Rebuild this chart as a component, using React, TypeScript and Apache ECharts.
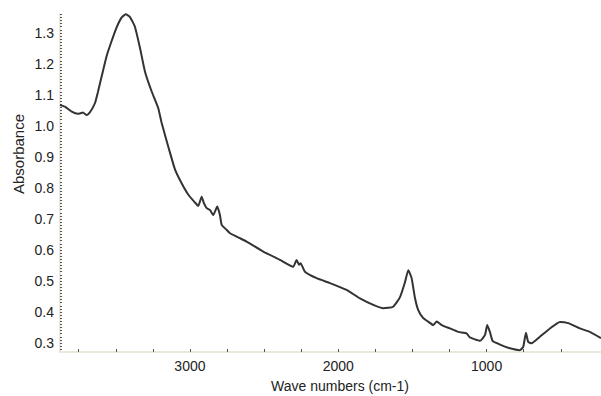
import React, { useEffect, useRef } from "react";
import * as echarts from "echarts";

const wavenumbers = [
  3876, 3843, 3797, 3755, 3721, 3696, 3674, 3640, 3620, 3595, 3562, 3528, 3494, 3460, 3433, 3405,
  3371, 3337, 3303, 3258, 3214, 3191, 3146, 3101, 3056, 3012, 2966, 2944, 2921, 2906, 2887, 2865,
  2843, 2816, 2798, 2786, 2753, 2730, 2663, 2618, 2506, 2393, 2304, 2281, 2265, 2254, 2225, 2146,
  2056, 1944, 1854, 1764, 1697, 1630, 1584, 1551, 1528, 1506, 1483, 1461, 1427, 1394, 1360, 1337,
  1303, 1247, 1191, 1135, 1113, 1045, 1011, 996, 978, 960, 910, 843, 776, 753, 735, 720, 697, 641,
  573, 506, 450, 371, 304, 229,
];
const absorbance = [
  1.068, 1.062, 1.046, 1.039, 1.043, 1.035, 1.044, 1.074, 1.11, 1.16, 1.225, 1.274, 1.318, 1.35, 1.36, 1.352,
  1.32, 1.252, 1.175, 1.111, 1.058, 1.01, 0.933, 0.86, 0.815, 0.779, 0.753, 0.742, 0.772, 0.751, 0.735, 0.729,
  0.713, 0.74, 0.713, 0.681, 0.665, 0.654, 0.638, 0.627, 0.595, 0.568, 0.546, 0.568, 0.552, 0.557, 0.53, 0.509,
  0.493, 0.471, 0.444, 0.423, 0.412, 0.417, 0.448, 0.495, 0.535, 0.51, 0.445, 0.406, 0.38, 0.369, 0.358, 0.369,
  0.358, 0.347, 0.336, 0.331, 0.318, 0.307, 0.326, 0.358, 0.336, 0.307, 0.295, 0.283, 0.277, 0.288, 0.333, 0.304, 0.299, 0.32,
  0.347, 0.368, 0.364, 0.347, 0.336, 0.316,
];
const xLabels = [1000, 2000, 3000];
const xTicks = [500, 750, 1000, 1250, 1500, 1750, 2000, 2250, 2500, 2750, 3000, 3250, 3500, 3750];
const yLabels = [0.3, 0.4, 0.5, 0.6, 0.7, 0.8, 0.9, 1.0, 1.1, 1.2, 1.3];
const yTickHundredths = Array.from({ length: 109 }, (_, i) => 28 + i);

export default function App() {
  const ref = useRef<HTMLDivElement>(null);
  useEffect(() => {
    if (!ref.current) return;
    const chart = echarts.init(ref.current, null, { renderer: "svg" });
    const font = "'Liberation Sans', Arial, sans-serif";
    chart.setOption({
      animation: false,
      backgroundColor: "#ffffff",
      grid: { left: 60, right: 0, top: 14, bottom: 44 },
      xAxis: {
        type: "value",
        inverse: true,
        min: 229,
        max: 3876,
        axisLine: { show: true, lineStyle: { color: "#e6e1d2", width: 1.5 } },
        axisTick: {
          show: true,
          inside: true,
          length: 3,
          customValues: xTicks,
          lineStyle: { color: "#555", width: 1 },
        },
        axisLabel: {
          customValues: xLabels,
          formatter: (v: number) => String(Math.round(v)),
          color: "#222",
          fontSize: 14,
          fontFamily: font,
          margin: 7,
        },
        splitLine: { show: false },
      },
      yAxis: {
        type: "value",
        min: 0.271,
        max: 1.361,
        axisLine: { show: true, lineStyle: { color: "#e6e1d2", width: 1.5 } },
        axisTick: {
          show: true,
          inside: true,
          length: 2,
          customValues: yTickHundredths.map((v) => v / 100),
          lineStyle: { color: "#555", width: 1 },
        },
        axisLabel: {
          customValues: yLabels,
          formatter: (v: number) => v.toFixed(1),
          color: "#222",
          fontSize: 14,
          fontFamily: font,
          margin: 6,
        },
        splitLine: { show: false },
      },
      graphic: [
        {
          type: "text",
          x: 18,
          y: 154,
          rotation: Math.PI / 2,
          style: {
            text: "Absorbance",
            font: `15px ${font}`,
            fill: "#222",
            align: "center",
            verticalAlign: "middle",
          },
        },
        {
          type: "text",
          x: 340,
          y: 386,
          style: {
            text: "Wave numbers (cm-1)",
            font: `14px ${font}`,
            fill: "#222",
            align: "center",
            verticalAlign: "middle",
          },
        },
      ],
      series: [
        {
          type: "line",
          data: wavenumbers.map((w, i) => [w, absorbance[i]]),
          showSymbol: false,
          smooth: 0.15,
          lineStyle: { color: "#333333", width: 2 },
        },
      ],
    });
    return () => chart.dispose();
  }, []);
  return (
    <div
      ref={ref}
      style={{ position: "fixed", left: 0, top: 0, width: 601, height: 396 }}
    />
  );
}
